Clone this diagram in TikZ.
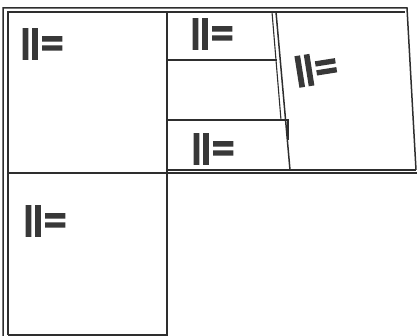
\documentclass[tikz,border=0pt]{standalone}
\usepackage{fontspec}
\newfontfamily\signfont{Liberation Sans}
\definecolor{inkline}{gray}{0.18}
\definecolor{inksign}{gray}{0.22}
\newcommand{\signtext}{\special{pdf:literal direct 2 Tr 1.6 w}|\kern0.5pt|\kern2pt\raisebox{-2.5pt}{\scalebox{1.15}[1.05]{=}}\special{pdf:literal direct 0 Tr}}

\begin{document}
\begin{tikzpicture}[x=1pt, y=-1pt, line width=1.5pt, draw=inkline,
    sign/.style={font=\signfont\bfseries\fontsize{32}{32}\selectfont, text=inksign, inner sep=0pt}]
	\useasboundingbox (0,0) rectangle (417,336);

	% outer frame, double line
	\draw[inkline] (3,336) -- (3,8) -- (407,8) -- (416,170);
	\draw[inkline] (8,335) -- (8,12) -- (405,12);
	\draw[inkline] (167,170) -- (416,170);
	\draw[inkline] (8,173) -- (417,173);
	\draw[inkline] (8,335) -- (167,335);

	% middle column
	\draw[inkline] (167,12) -- (167,336);
	\draw[inkline] (167,60) -- (277,60);
	\draw[inkline] (167,120) -- (288,120) -- (288,140);
	\draw[inkline, line width=1.1pt] (272,12) -- (281,120);
	\draw[inkline] (276,12) -- (290,170);

	% signs
	\node[sign] (topleft) at (42,44) {\signtext};
	\node[sign] (upper) at (212,34) {\signtext};
	\node[sign] (lower) at (213,149) {\signtext};
	\node[sign, rotate=9] (right) at (316,69) {\signtext};
	\node[sign] (bottomleft) at (45,221) {\signtext};
\end{tikzpicture}
\end{document}
